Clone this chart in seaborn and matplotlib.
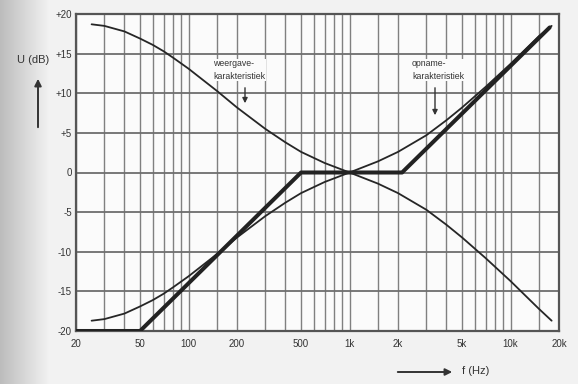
import numpy as np
import pandas as pd
import matplotlib
matplotlib.use("Agg")
import matplotlib.pyplot as plt
from matplotlib.ticker import FixedLocator, LogLocator, NullFormatter
import seaborn as sns

# ---------- Data ----------
freq = [25, 30, 40, 50, 60, 70, 80, 100, 150, 200, 300, 400, 500, 700,
        1000, 1500, 2000, 3000, 4000, 5000, 7000, 10000, 15000, 18000]
weergave = [18.7, 18.5, 17.8, 16.9, 16.1, 15.3, 14.5, 13.1, 10.3, 8.2, 5.5, 3.8, 2.6, 1.2,
            0.0, -1.4, -2.6, -4.7, -6.6, -8.2, -10.8, -13.7, -17.2, -18.7]
opname = [-18.7, -18.5, -17.8, -16.9, -16.1, -15.3, -14.5, -13.1, -10.3, -8.2, -5.5, -3.8, -2.6, -1.2,
          0.0, 1.4, 2.6, 4.7, 6.6, 8.2, 10.8, 13.7, 17.2, 18.5]

# straight-line approximation of the recording curve
asym_freq = [20, 50, 500, 2120, 17500]
asym_db = [-20, -20, 0, 0, 18.3]

x_ticks = [20, 50, 100, 200, 500, 1000, 2000, 5000, 10000, 20000]
x_labels = ["20", "50", "100", "200", "500", "1k", "2k", "5k", "10k", "20k"]
y_ticks = [20, 15, 10, 5, 0, -5, -10, -15, -20]
y_labels = ["+20", "+15", "+10", "+5", "0", "-5", "-10", "-15", "-20"]

sns.set_style("white")
plt.rcParams["font.family"] = ["Liberation Sans", "DejaVu Sans"]

W, H = 578, 384
fig = plt.figure(figsize=(W / 100, H / 100), dpi=100, facecolor="#f2f2f2")

# scanned-paper look: darker band at the left edge
grad = np.ones((H, W, 3)) * 0.95
ramp = np.linspace(0, 1, 50)
grad[:, :50, :] = (0.74 + 0.21 * ramp)[None, :, None]
fig.figimage(grad, 0, 0, zorder=-5)

ax = fig.add_axes([76 / W, 1 - 331 / H, (559 - 76) / W, (331 - 14) / H], zorder=1)
ax.set_facecolor("#fbfbfb")

curves = pd.DataFrame({"f": freq, "weergave": weergave, "opname": opname})
sns.lineplot(data=curves, x="f", y="weergave", ax=ax, color="#262626", lw=1.3, zorder=3)
sns.lineplot(data=curves, x="f", y="opname", ax=ax, color="#262626", lw=1.3, zorder=3)
asym = pd.DataFrame({"f": asym_freq, "db": asym_db})
sns.lineplot(data=asym, x="f", y="db", ax=ax, color="#222222", lw=2.9, zorder=4)

ax.set_xscale("log")
ax.set_xlim(20, 20000)
ax.set_ylim(-20, 20)
ax.xaxis.set_major_locator(FixedLocator(x_ticks))
ax.set_xticklabels(x_labels)
ax.xaxis.set_minor_locator(LogLocator(base=10, subs=[1.5, 2, 3, 4, 5, 6, 7, 8, 9]))
ax.xaxis.set_minor_formatter(NullFormatter())
ax.set_yticks(y_ticks)
ax.set_yticklabels(y_labels)
ax.set_xlabel("")
ax.set_ylabel("")

ax.grid(which="both", axis="x", color="#808080", lw=1.0)
ax.grid(which="major", axis="y", color="#6e6e6e", lw=1.3)
ax.set_axisbelow(True)
ax.tick_params(which="both", length=0, labelsize=7, colors="#333333")
ax.tick_params(axis="x", pad=6)
ax.tick_params(axis="y", pad=3)
for s in ax.spines.values():
    s.set_color("#555555")
    s.set_linewidth(1.6)


def fx(px):
    return px / W


def fy(py):
    return 1 - py / H


# axis titles with arrows
fig.text(fx(33), fy(60), "U (dB)", fontsize=8, color="#333333", ha="center", va="center")
fig.patches.append(matplotlib.patches.FancyArrowPatch(
    (fx(38), fy(130)), (fx(38), fy(76)), transform=fig.transFigure,
    arrowstyle="-|>,head_length=4,head_width=2", color="#333333", lw=1.4))
fig.text(fx(476), fy(371), "f (Hz)", fontsize=8, color="#333333", ha="center", va="center")
fig.patches.append(matplotlib.patches.FancyArrowPatch(
    (fx(395), fy(372)), (fx(455), fy(372)), transform=fig.transFigure,
    arrowstyle="-|>,head_length=4,head_width=2", color="#333333", lw=1.4))

# curve annotations
box = dict(facecolor="#fbfbfb", edgecolor="none", pad=0.5)
fig.text(fx(213), fy(70), "weergave-\nkarakteristiek", fontsize=6.3, color="#333333",
         ha="left", va="center", linespacing=1.5, bbox=box, zorder=5)
fig.patches.append(matplotlib.patches.FancyArrowPatch(
    (fx(245), fy(85)), (fx(245), fy(106)), transform=fig.transFigure,
    arrowstyle="-|>,head_length=3,head_width=1.5", color="#333333", lw=1.0, zorder=5))
fig.text(fx(412), fy(70), "opname-\nkarakteristiek", fontsize=6.3, color="#333333",
         ha="left", va="center", linespacing=1.5, bbox=box, zorder=5)
fig.patches.append(matplotlib.patches.FancyArrowPatch(
    (fx(435), fy(85)), (fx(435), fy(118)), transform=fig.transFigure,
    arrowstyle="-|>,head_length=3,head_width=1.5", color="#333333", lw=1.0, zorder=5))

fig.savefig("out.png", dpi=100, facecolor=fig.get_facecolor())
